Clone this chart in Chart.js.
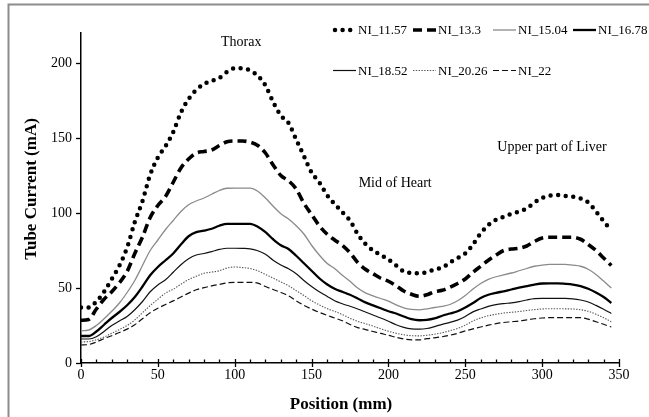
<!DOCTYPE html>
<html><head><meta charset="utf-8">
<script src="https://cdn.jsdelivr.net/npm/chart.js@4.4.1/dist/chart.umd.min.js"></script>
<style>html,body{margin:0;padding:0;background:#fff;}#wrap{width:649px;height:417px;position:relative;}canvas{display:block;}</style>
</head><body><div id="wrap"><canvas id="c" width="649" height="417"></canvas></div>
<script>
const positions = [0,5,10,15,20,25,30,35,40,45,50,55,60,65,70,75,80,85,90,95,100,105,110,115,120,125,130,135,140,145,150,155,160,165,170,175,180,185,190,195,200,205,210,215,220,225,230,235,240,245,250,255,260,265,270,275,280,285,290,295,300,305,310,315,320,325,330,335,340,345];
const seriesLabels = ["NI_11.57","NI_13.3","NI_15.04","NI_16.78","NI_18.52","NI_20.26","NI_22"];
const ni1157 = [37,37,41,47.5,56,65,77,94,108,125.5,
  137,144.5,154,167,176,182,186,188,190,194,
  196.5,196.5,195,191.5,185,174,165,160,149,138,
  127,120.5,112,106,100.5,95,86,79.5,75,72,
  69,65,61,60,59.8,60.5,62.5,63.5,67,70,
  73,79,86.5,92,95.5,97.5,99.5,101,103,107,
  110,111.5,112,111.4,110.8,109.7,107,101,94.5,88.5];
const ni133 = [28.5,29,36,42.5,47.5,53.5,61,73,84,97,
  105,111,120.5,130,136,140,141,142,145,147.5,
  148,148,147.2,145,140,132,125,121.5,116,106.5,
  99,91.5,86,82,78.5,73.5,67,62.5,59.5,56.5,
  54.5,51.5,48,45.8,44.5,45.5,47.5,48.5,50.5,53,
  56,60.5,64.5,68.5,72,75,76,76.5,78,81,
  83.3,83.8,83.8,83.8,83.8,82.5,79,75,70,65];
const ni1504 = [21.5,22,25,29.5,34.5,40,47,55,65,75,
  82,89,95,101,105.5,108,110,112.5,115,116.5,
  116.6,116.6,116.6,114.5,110,104.5,99.5,96,91.5,86,
  78.5,72,66.5,63,58.5,54.5,50,46.8,44.8,43,
  41.3,38.8,36.8,35.7,35.4,36.1,37,37.8,39,41.5,
  45,49.3,53,55.7,57.5,58.7,60,61.5,63,64.5,
  65.2,65.7,65.8,65.8,65.2,64.5,62.5,59,54.6,50];
const ni1678 = [18,18,21,25.5,30,34,38.5,44,51,58.5,
  64,68.5,73,79,84.5,87.2,88.2,89.5,91.5,92.8,
  92.8,92.8,92.8,90.8,87.2,82.5,78.5,76,71.5,66.5,
  61.5,56.5,52.5,49.5,47.5,45.5,43,40.4,38.4,36.5,
  34.5,33,31,29.2,28.5,28.8,29.8,31.5,33,34.5,
  37,40,43.3,45.5,46.8,47.8,49,50.2,51.3,52.3,
  53,53.1,53.1,52.8,52.3,51.3,49.5,47,44,40];
const ni1852 = [16,16,17.5,21,25,28,31,35.5,41,47.5,
  52,55.5,60.5,65.5,69.5,72,73,74.3,75.7,76.5,
  76.5,76.4,76.1,74.8,72.5,68.5,65.3,62.8,59.5,55,
  51,47.5,44.5,41.5,39.5,37.8,36,34,32,30,
  27.8,25.5,23.8,22.8,22.6,23,24.3,25.8,27.1,28.6,
  31,34.1,36,37.7,38.9,39.6,40.1,40.9,42,42.9,
  43.1,43.1,43.1,43.1,42.8,42,40.7,38.4,35.8,33];
const ni2026 = [14,14.3,15.5,17.3,19.8,22.3,25,28.7,33.5,38.3,
  42.5,46.6,49.2,52.5,55.6,57.8,59.8,60.6,61.5,63.3,
  64,63.6,63,61.5,59,56.6,54,51.5,48.2,45,
  41.5,38.8,36.3,34.4,32.3,29.8,27.8,26.2,24.6,22.8,
  21.2,19.8,18.8,18.2,18.1,18.5,19.2,20.2,21.5,23,
  25.2,28,30,31.5,32.5,33.3,33.8,34.3,35,35.6,
  36,36.2,36.2,36.1,36,35.5,34.5,32.5,30.2,27.5];
const ni22 = [12,12.3,14,16.2,18.2,20.3,22.6,25.5,29.5,33.5,
  36.5,39,41.4,44,46.6,48.8,50.2,51.4,52.4,53.4,
  53.8,53.8,53.8,53.2,51,49,47,44.8,41.5,38.5,
  36,33.8,31.8,30,28.2,25.7,23.6,22.3,21,19.7,
  18.5,17.1,16,15.4,15.4,16.2,16.8,17.5,18.5,19.8,
  21.4,22.7,24,25.2,26.2,27,27.5,28,28.8,29.5,
  30,30.2,30.2,30.2,30.2,30.2,29.2,27.5,25.8,24];
const xMajorTicks = [0,50,100,150,200,250,300,350];
const yTickLabels = [0,50,100,150,200];
const regionLabels = ["Thorax","Mid of Heart","Upper part of Liver"];
const regionAnchorX = [104.2,204.4,306.4];
const regionAnchorY = [214,120,143.5];

const allSeries = [ni1157,ni133,ni1504,ni1678,ni1852,ni2026,ni22];
const styles = [
  {borderColor:'#000',borderWidth:4.5,borderDash:[0,7.6],borderCapStyle:'round'},
  {borderColor:'#000',borderWidth:3.6,borderDash:[9,5],borderCapStyle:'butt'},
  {borderColor:'#8a8a8a',borderWidth:1.3,borderDash:[],borderCapStyle:'butt'},
  {borderColor:'#000',borderWidth:2.3,borderDash:[],borderCapStyle:'butt'},
  {borderColor:'#111',borderWidth:1.2,borderDash:[],borderCapStyle:'butt'},
  {borderColor:'#555',borderWidth:1.1,borderDash:[1.4,1.4],borderCapStyle:'butt'},
  {borderColor:'#111',borderWidth:1.2,borderDash:[6,3],borderCapStyle:'butt'}
];
const datasets = allSeries.map((vals,i)=>Object.assign({
  label: seriesLabels[i],
  data: positions.map((x,j)=>({x:x,y:vals[j]})),
  pointRadius:0, fill:false, cubicInterpolationMode:'monotone', borderJoinStyle:'round'
}, styles[i]));

const SERIF = '"Liberation Serif","Times New Roman",serif';

const decor = {
  id:'decor',
  beforeDraw(chart){
    const ctx = chart.ctx;
    ctx.save();
    ctx.fillStyle='#fff'; ctx.fillRect(0,0,chart.width,chart.height);
    ctx.strokeStyle='#8c8c8c'; ctx.lineWidth=2;
    ctx.beginPath(); ctx.moveTo(8.5,417); ctx.lineTo(8.5,4.5); ctx.lineTo(649,4.5); ctx.stroke();
    ctx.restore();
  },
  afterDraw(chart){
    const ctx = chart.ctx, xs = chart.scales.x, ys = chart.scales.y;
    const ca = chart.chartArea;
    ctx.save();
    ctx.strokeStyle='#000'; ctx.lineWidth=1.3;
    xs.ticks.forEach(t=>{
      const px = Math.round(xs.getPixelForValue(t.value))+0.5;
      const major = xMajorTicks.indexOf(t.value)>=0;
      ctx.beginPath();
      ctx.moveTo(px, ca.bottom-(major?4:3.5)); ctx.lineTo(px, ca.bottom+(major?4:0)); ctx.stroke();
    });
    ys.ticks.forEach(t=>{
      const py = Math.round(ys.getPixelForValue(t.value))+0.5;
      ctx.beginPath(); ctx.moveTo(ca.left-5, py); ctx.lineTo(ca.left, py); ctx.stroke();
    });
    // axis titles
    ctx.fillStyle='#000';
    ctx.font='bold 17px '+SERIF;
    ctx.textAlign='center'; ctx.textBaseline='middle';
    ctx.fillText('Position (mm)', 341, 405);
    ctx.save(); ctx.translate(31.5,189); ctx.rotate(-Math.PI/2);
    ctx.fillText('Tube Current (mA)',0,0); ctx.restore();
    // region annotations
    ctx.font='14px '+SERIF;
    regionLabels.forEach((s,i)=>{
      ctx.fillText(s, xs.getPixelForValue(regionAnchorX[i]), ys.getPixelForValue(regionAnchorY[i]));
    });
    // legend
    const cols=[333,413,493,573], rowsY=[30,70.5];
    ctx.font='13px '+SERIF; ctx.textAlign='left';
    chart.data.datasets.forEach((d,i)=>{
      const row = i<4?0:1, col = row===0?i:i-4;
      const x0 = cols[col], y = rowsY[row];
      ctx.save();
      ctx.strokeStyle=d.borderColor; ctx.lineWidth=d.borderWidth;
      ctx.setLineDash(d.borderDash||[]); ctx.lineCap=d.borderCapStyle||'butt';
      ctx.beginPath();
      const dotted = d.borderCapStyle==='round';
      ctx.moveTo(x0+(dotted?2:0), y); ctx.lineTo(x0+(dotted?19:23), y); ctx.stroke();
      ctx.restore();
      ctx.fillStyle='#000';
      ctx.fillText(d.label, x0+25, y+1);
    });
    ctx.restore();
  }
};

new Chart(document.getElementById('c'), {
  type:'line',
  data:{datasets:datasets},
  plugins:[decor],
  options:{
    responsive:false, animation:false, devicePixelRatio:1,
    layout:{padding:{left:0,right:30,top:33,bottom:0}},
    plugins:{legend:{display:false},tooltip:{enabled:false},title:{display:false}},
    scales:{
      x:{type:'linear',min:0,max:350,bounds:'data',
        ticks:{stepSize:10,autoSkip:false,maxRotation:0,minRotation:0,color:'#000',padding:4,
          font:{family:SERIF,size:14},
          callback:(v)=> xMajorTicks.indexOf(v)>=0 ? String(v) : ''},
        grid:{display:true,drawOnChartArea:false,drawTicks:false},
        border:{display:true,color:'#000',width:1.5},
        afterFit:(s)=>{s.height=54;}
      },
      y:{type:'linear',min:0,max:220,bounds:'data',
        afterBuildTicks:(s)=>{s.ticks = yTickLabels.map(v=>({value:v}));},
        ticks:{stepSize:50,includeBounds:false,color:'#000',padding:9,font:{family:SERIF,size:14}},
        grid:{display:true,drawOnChartArea:false,drawTicks:false},
        border:{display:true,color:'#000',width:1.5},
        afterFit:(s)=>{s.width=81;}
      }
    }
  }
});
</script></body></html>
